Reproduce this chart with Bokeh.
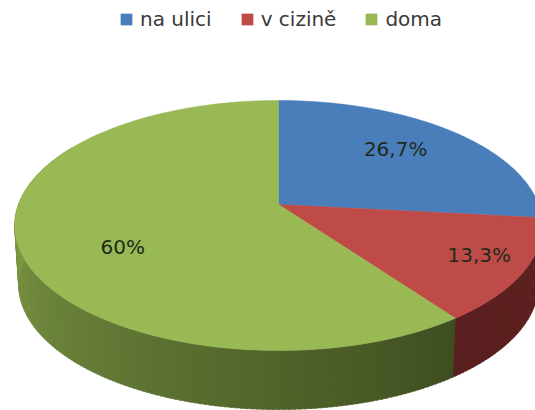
import numpy as np
from bokeh.plotting import figure
from bokeh.models import Range1d, Legend, LegendItem
from bokeh.core.properties import value
from bokeh.embed import file_html
from bokeh.resources import INLINE

categories = ["na ulici", "v cizině", "doma"]
shares = [26.7, 13.3, 60.0]
percent_labels = ["26,7%", "13,3%", "60%"]
top_colors = ["#4a7ebb", "#be4b48", "#98b954"]
side_start = ["#3c6596", "#5e2120", "#3f4e20"]
side_end = ["#3c6596", "#5a1f1f", "#8dab4e"]

CX, CY, RX, RY, TILT, DEPTH, BOTTOM_SCALE = 278, 204, 260, 121.5, 0.168, 59, 0.985
label_radius = [0.65, 0.83, 0.61]
label_dy = [-6, -4, 19]


def project(deg, r=1.0, scale=1.0, dy=0.0):
    t = np.radians(deg)
    u, v = r * np.sin(t), r * np.cos(t)
    d = 1 + TILT * v
    return CX + scale * RX * u / d, CY - RY * v / d + dy


def hex_rgb(c):
    return np.array([int(c[i:i + 2], 16) for i in (1, 3, 5)], float)


def mix(a, b, f):
    m = hex_rgb(a) * (1 - f) + hex_rgb(b) * f
    return "#%02x%02x%02x" % tuple(int(round(x)) for x in m)


p = figure(width=535, height=410, output_backend="svg", toolbar_location=None,
           x_range=Range1d(0, 535), y_range=Range1d(410, 0), min_border=0,
           outline_line_color=None)
p.xaxis.visible = False
p.yaxis.visible = False
p.grid.visible = False

edges = np.concatenate([[0], np.cumsum(shares)]) / sum(shares) * 360

# rim, only the part facing the viewer
VISIBLE_FROM, VISIBLE_TO = 90, 300
for i in range(len(shares)):
    a0, a1 = max(edges[i], VISIBLE_FROM), min(edges[i + 1], VISIBLE_TO)
    if a1 <= a0:
        continue
    steps = int(a1 - a0) + 1
    grid = np.linspace(a0, a1, steps + 1)
    for j in range(steps):
        aa = np.array([grid[j], grid[j + 1] + 0.4])
        xt, yt = project(aa)
        xb, yb = project(aa, scale=BOTTOM_SCALE, dy=DEPTH)
        col = mix(side_start[i], side_end[i], j / max(steps - 1, 1))
        p.patch(np.r_[xt, xb[::-1]], np.r_[yt, yb[::-1]], fill_color=col, line_color=col, line_width=0.5)

# top face
wedges = []
for i in range(len(shares)):
    aa = np.linspace(edges[i], edges[i + 1], 120)
    x, y = project(aa)
    wedges.append(p.patch(np.r_[CX, x], np.r_[CY, y], fill_color=top_colors[i],
                          line_color=top_colors[i], line_width=0.5))

# percentage labels
mids = (edges[:-1] + edges[1:]) / 2
lx, ly = [], []
for m, r, dy in zip(mids, label_radius, label_dy):
    x, y = project(m, r=r, dy=dy)
    lx.append(x)
    ly.append(y)
p.text(lx, ly, text=percent_labels, text_align="center", text_baseline="middle",
       text_font=value("DejaVu Sans"), text_font_size="20px", text_color="#1e2a1c")

legend = Legend(items=[LegendItem(label=c, renderers=[w]) for c, w in zip(categories, wedges)],
                orientation="horizontal", location=(119, 379), glyph_width=14, glyph_height=14,
                label_standoff=7, spacing=28, padding=0, margin=0,
                background_fill_alpha=0, border_line_color=None,
                label_text_font="DejaVu Sans", label_text_font_size="20px", label_text_color="#3a3a3a")
p.add_layout(legend, "center")

open("out.html", "w").write(file_html(p, INLINE))
